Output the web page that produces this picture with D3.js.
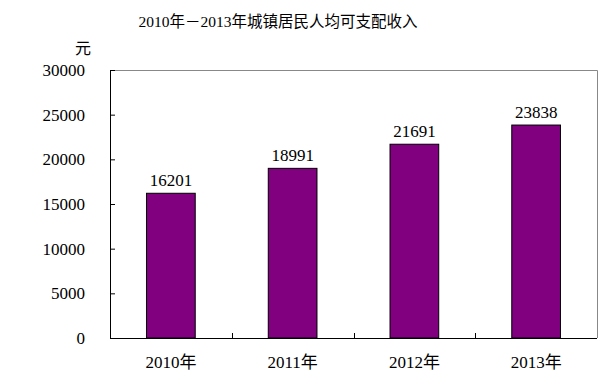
<!DOCTYPE html>
<html>
<head>
<meta charset="utf-8">
<script src="https://cdn.jsdelivr.net/npm/d3@7"></script>
<style>
  body { margin: 0; background: #fff; }
  svg text { fill: #000; }
</style>
</head>
<body>
<div id="canvas"></div>
<script>
const categories = ["2010年", "2011年", "2012年", "2013年"];
const values = [16201, 18991, 21691, 23838];
const yTicks = [0, 5000, 10000, 15000, 20000, 25000, 30000];

const width = 614;
const height = 392;
const margin = { top: 70, left: 110, bottom: 54, right: 17 };
const iwidth = width - margin.left - margin.right;
const iheight = height - margin.top - margin.bottom;
const serif = "'Liberation Serif', 'Noto Sans CJK SC', serif";

const svg = d3.select("#canvas").append("svg")
  .attr("width", width)
  .attr("height", height);

function font(sel, size) {
  sel.style("font-family", serif).style("font-size", size + "px");
}

svg.append("text")
  .attr("x", 278).attr("y", 27)
  .attr("text-anchor", "middle")
  .call(font, 15.5)
  .text("2010年－2013年城镇居民人均可支配收入");

svg.append("text")
  .attr("x", 83).attr("y", 54)
  .attr("text-anchor", "middle")
  .call(font, 16)
  .text("元");

const g = svg.append("g")
  .attr("transform", `translate(${margin.left},${margin.top})`);

const y = d3.scaleLinear().domain([0, 30000]).range([iheight, 0]);
const x = d3.scaleBand().domain(categories).range([0, iwidth]).paddingInner(0.6).paddingOuter(0.3);

// frame top/right in gray
g.append("path")
  .attr("d", `M0,0.5H${iwidth + 0.5}V${iheight}`)
  .attr("fill", "none")
  .attr("stroke", "#888");

g.selectAll("rect.bar").data(values).enter().append("rect")
  .attr("class", "bar")
  .attr("x", (d, i) => x(categories[i]))
  .attr("y", d => y(d))
  .attr("width", x.bandwidth())
  .attr("height", d => iheight - y(d))
  .attr("fill", "#800080")
  .attr("stroke", "#000")
  .attr("stroke-width", 1);

g.selectAll("text.val").data(values).enter().append("text")
  .attr("class", "val")
  .attr("x", (d, i) => x(categories[i]) + x.bandwidth() / 2)
  .attr("y", d => y(d) - 7)
  .attr("text-anchor", "middle")
  .call(font, 17)
  .text(d => d);

// y axis
const yAxis = g.append("g")
  .call(d3.axisLeft(y).tickValues(yTicks).tickSize(-5).tickPadding(25).tickFormat(d3.format("d")));
yAxis.select(".domain").attr("stroke", "#000");
yAxis.selectAll("text").call(font, 17);

// x axis, ticks at category boundaries
const xAxis = g.append("g")
  .attr("transform", `translate(0,${iheight})`)
  .call(d3.axisBottom(x).tickSize(0).tickPadding(18));
xAxis.select(".domain").attr("stroke", "#000").attr("d", `M0,0.5H${iwidth}`);
xAxis.selectAll("text").call(font, 17);

const boundaries = d3.range(1, categories.length).map(i => i * iwidth / categories.length);
g.selectAll("line.xt").data(boundaries).enter().append("line")
  .attr("class", "xt")
  .attr("x1", d => Math.round(d) + 0.5).attr("x2", d => Math.round(d) + 0.5)
  .attr("y1", iheight).attr("y2", iheight - 5)
  .attr("stroke", "#000");
</script>
</body>
</html>
